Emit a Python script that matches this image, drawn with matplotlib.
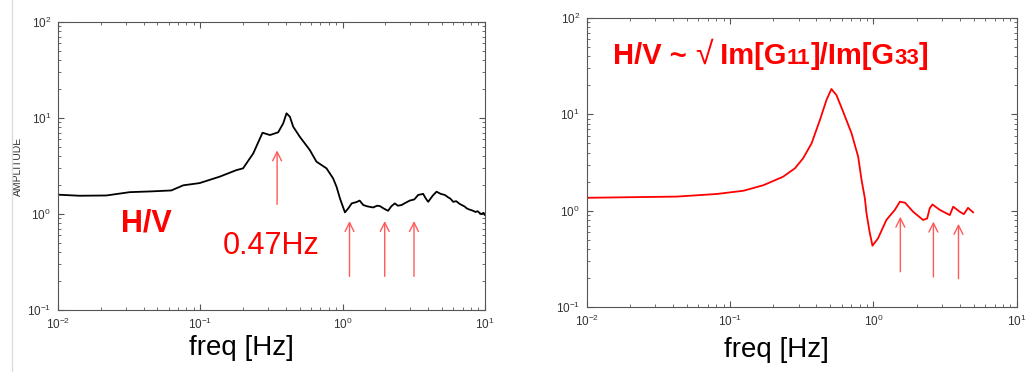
import matplotlib
matplotlib.use('Agg')
import matplotlib.pyplot as plt
from matplotlib.lines import Line2D

plt.rcParams['font.family'] = ['Liberation Sans', 'DejaVu Sans']
plt.rcParams['mathtext.fontset'] = 'custom'
plt.rcParams['mathtext.rm'] = 'Liberation Sans'

# observed H/V spectrum (left)
obs_freq = [0.01, 0.0142, 0.0219, 0.032, 0.045, 0.0626, 0.0759, 0.099, 0.137, 0.18,
            0.2, 0.236, 0.274, 0.309, 0.353, 0.383, 0.404, 0.427, 0.45, 0.501,
            0.589, 0.656, 0.772, 0.859, 0.908, 0.96, 1.04, 1.1, 1.16, 1.25, 1.32, 1.40,
            1.5, 1.64, 1.75, 1.83, 1.95, 2.09, 2.2, 2.33, 2.45, 2.60, 2.75, 2.97, 3.2,
            3.40, 3.69, 3.85, 4.00, 4.3, 4.58, 4.9, 5.24, 5.5, 5.75, 6.0, 6.3,
            6.68, 6.9, 7.2, 7.44, 7.7, 8.0, 8.28, 8.6, 8.9, 9.22, 9.5, 9.8, 10.0]
obs_amp = [1.59, 1.55, 1.56, 1.69, 1.72, 1.76, 1.99, 2.10, 2.45, 2.87,
           2.99, 4.29, 7.03, 6.65, 7.10, 8.80, 11.2, 10.3, 8.13, 6.38,
           4.64, 3.51, 2.99, 2.35, 1.92, 1.45, 1.04, 1.15, 1.29, 1.33, 1.38, 1.24,
           1.20, 1.17, 1.22, 1.21, 1.14, 1.08, 1.20, 1.29, 1.22, 1.24, 1.30, 1.38, 1.42,
           1.58, 1.62, 1.45, 1.34, 1.55, 1.71, 1.62, 1.58, 1.50, 1.44, 1.34, 1.36,
           1.27, 1.24, 1.20, 1.15, 1.12, 1.10, 1.08, 1.05, 1.07, 1.02, 1.00, 1.03, 0.98]

# theoretical H/V ~ sqrt(Im[G11]/Im[G33]) (right)
thr_freq = [0.01, 0.0425, 0.0807, 0.124, 0.171, 0.234, 0.283, 0.323, 0.37, 0.423,
            0.47, 0.509, 0.552, 0.615, 0.703, 0.782, 0.826, 0.871, 0.894, 0.94,
            0.984, 1.076, 1.23, 1.41, 1.53, 1.66, 1.89, 2.22, 2.37, 2.47, 2.58,
            2.90, 3.41, 3.60, 4.00, 4.27, 4.57, 4.96]
thr_amp = [1.36, 1.40, 1.49, 1.61, 1.84, 2.25, 2.75, 3.50, 5.0, 8.73,
           14.1, 18.3, 15.8, 10.6, 6.35, 3.63, 2.08, 1.34, 0.94, 0.60,
           0.433, 0.516, 0.80, 1.02, 1.24, 1.21, 0.975, 0.80, 0.83, 1.06, 1.16,
           1.02, 0.90, 1.10, 0.975, 0.92, 1.07, 0.96]

# arrows: (x, y_tail, y_head)
left_arrows = [(0.347, 1.26, 4.6), (1.12, 0.224, 0.845), (1.98, 0.224, 0.845), (3.18, 0.224, 0.845)]
right_arrows = [(1.54, 0.232, 0.866), (2.62, 0.205, 0.77), (3.92, 0.197, 0.73)]

arrow_color = '#ff5a5a'
tick_color = '#333333'

fig = plt.figure(figsize=(10.26, 3.72), dpi=100)
fig.add_artist(Line2D([12 / 1026, 12 / 1026], [0, 1], color='#dddddd', lw=1))


def style_axes(ax):
    ax.set_xscale('log')
    ax.set_yscale('log')
    ax.set_xlim(1e-2, 1e1)
    ax.set_ylim(1e-1, 1e2)
    for s in ax.spines.values():
        s.set_color('#555555')
        s.set_linewidth(0.8)
    ax.tick_params(which='both', direction='in', top=True, right=True,
                   colors='#555555', labelcolor=tick_color, labelsize=8.5, pad=5)
    ax.tick_params(which='major', length=4)
    ax.tick_params(which='minor', length=2)


ax1 = fig.add_axes([0.0565, 0.1667, 0.416, 0.774])
style_axes(ax1)
ax1.plot(obs_freq, obs_amp, color='black', lw=1.3)
ax1.set_ylabel('AMPLITUDE', fontsize=7.5, color=tick_color)
ax1.yaxis.set_label_coords(-0.082, 0.5)
for x, y0, y1 in left_arrows:
    ax1.annotate('', xy=(x, y1), xytext=(x, y0),
                 arrowprops=dict(arrowstyle='->', color=arrow_color, lw=1.0,
                                 mutation_scale=16, shrinkA=0, shrinkB=0))
ax1.text(0.208, 0.299, 'H/V', transform=ax1.transAxes, color='red', fontsize=22,
         fontweight='bold', ha='center', va='center')
ax1.text(0.499, 0.222, '0.47Hz', transform=ax1.transAxes, color='red', fontsize=22,
         ha='center', va='center')
ax1.text(0.431, -0.132, 'freq [Hz]', transform=ax1.transAxes, color='black', fontsize=20,
         ha='center', va='center', clip_on=False)

ax2 = fig.add_axes([0.572, 0.1747, 0.419, 0.777])
style_axes(ax2)
ax2.plot(thr_freq, thr_amp, color='red', lw=1.3)
for x, y0, y1 in right_arrows:
    ax2.annotate('', xy=(x, y1), xytext=(x, y0),
                 arrowprops=dict(arrowstyle='->', color=arrow_color, lw=1.0,
                                 mutation_scale=16, shrinkA=0, shrinkB=0))
ax2.text(0.44, -0.149, 'freq [Hz]', transform=ax2.transAxes, color='black', fontsize=20,
         ha='center', va='center', clip_on=False)

# title built from pieces so the digits can be smaller
pieces = [('H/V ~ ', 21, 'bold'), ('\u221a', 23, 'normal'), (' Im[G', 21, 'bold'),
          ('11', 16, 'bold'), (']/Im[G', 21, 'bold'), ('33', 16, 'bold'), (']', 21, 'bold')]
fig.canvas.draw()
renderer = fig.canvas.get_renderer()
x_px = 613
base_px = 372 - 64
for txt, size, weight in pieces:
    t = fig.text(x_px / 1026, base_px / 372, txt, color='red', fontsize=size,
                 fontweight=weight, ha='left', va='baseline',
                 family=['Liberation Sans', 'DejaVu Sans'])
    bb = t.get_window_extent(renderer)
    x_px += bb.width

fig.savefig('out.png', dpi=100)
